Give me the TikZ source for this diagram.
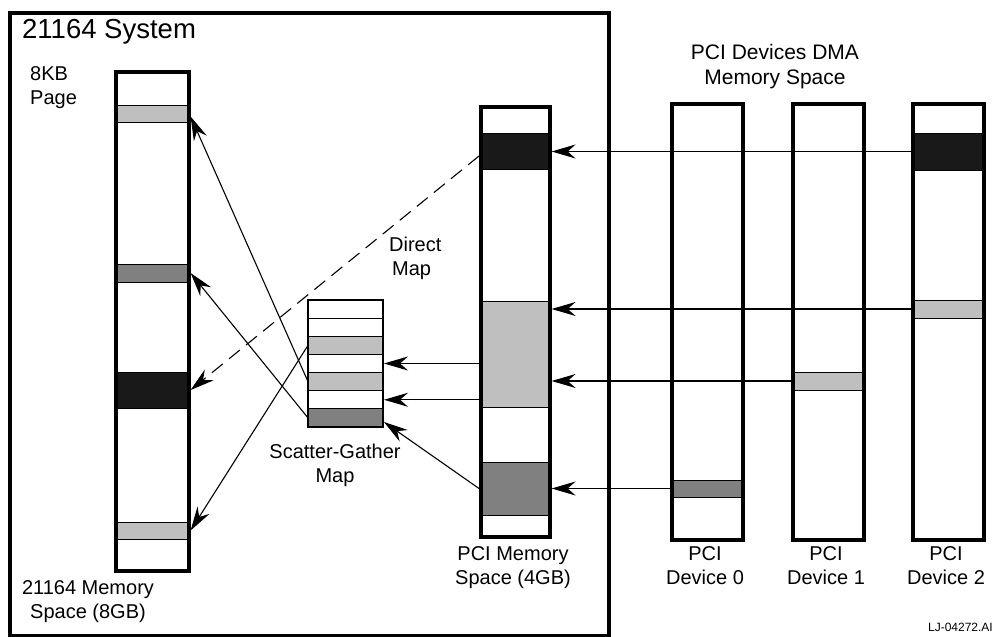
\documentclass[tikz,border=0pt]{standalone}
\usepackage{fontspec}
\setmainfont{Liberation Sans}
\usetikzlibrary{arrows.meta,calc}
\definecolor{lgr}{gray}{0.75}
\definecolor{dgr}{gray}{0.5}
\definecolor{bkr}{gray}{0.1}
\newcommand\mkband[6]{\node[bandbox, fill=#6, minimum width={(#4-#2)*1pt}, minimum height={(#5-#3)*1pt}] (#1) at (#2,#3) {};}
\newcommand\mkcol[5]{\node[colbox, minimum width={(#4-#2)*1pt}, minimum height={(#5-#3)*1pt}] (#1) at (#2,#3) {};}
\begin{document}
\begin{tikzpicture}[x=1pt,y=-1pt,
  bandbox/.style={draw, line width=0.8pt, inner sep=0pt, outer sep=0pt, anchor=north west},
  colbox/.style={draw, line width=3.6pt, inner sep=0pt, anchor=north west},
  sgrow/.style={draw, line width=1.2pt, inner sep=0pt, outer sep=0pt, anchor=north west, minimum width=75pt, minimum height=18.14pt},
  arr/.style={line width=1.1pt, -{Stealth[length=24pt, width=14pt, inset=8pt]}},
  lbl/.style={font=\fontsize{20}{24}\selectfont, align=center, inner sep=0pt},
]
\useasboundingbox (0,0) rectangle (994,637);
% outer system box
\node[draw, line width=4pt, inner sep=0pt, anchor=north west, minimum width=599pt, minimum height=623pt] (sys) at (8,11) {};
\node[font=\fontsize{27.5}{32}\selectfont, anchor=base west, inner sep=0pt] (systitle) at (22,38) {21164 System};
% left memory column
\mkband{lb1}{114}{105}{187}{122}{lgr}
\mkband{lb2}{114}{264}{187}{282}{dgr}
\mkband{lb3}{114}{372}{187}{408}{bkr}
\mkband{lb4}{114}{522}{187}{539}{lgr}
\mkcol{lcol}{114}{70}{187}{569}
% PCI memory column
\mkband{pk}{479}{133}{548}{169}{bkr}
\mkband{pl}{479}{301}{548}{407}{lgr}
\mkband{pd}{479}{462}{548}{515}{dgr}
\mkcol{pcol}{479}{105}{548}{535}
% devices
\mkband{dzd}{670}{480}{741}{497}{dgr}
\mkcol{dzcol}{670}{102}{741}{538}
\mkband{dol}{791}{372}{862}{390}{lgr}
\mkcol{docol}{791}{102}{862}{538}
\mkband{dtk}{911}{133}{982}{170}{bkr}
\mkband{dtl}{911}{300}{982}{318}{lgr}
\mkcol{dtcol}{911}{102}{982}{538}
% scatter-gather map
\node[sgrow, fill=white] (sg0) at (308,300) {};
\node[sgrow, fill=white] (sg1) at (308,318.14) {};
\node[sgrow, fill=lgr] (sg2) at (308,336.28) {};
\node[sgrow, fill=white] (sg3) at (308,354.42) {};
\node[sgrow, fill=lgr] (sg4) at (308,372.56) {};
\node[sgrow, fill=white] (sg5) at (308,390.70) {};
\node[sgrow, fill=dgr] (sg6) at (308,408.84) {};
\draw[line width=2.4pt] (sg0.north west) rectangle (sg6.south east);
% arrows from devices
\draw[arr] (dtcol.west |- dtk.west) -- (pcol.east |- dtk.west);
\draw[arr] (dtcol.west |- dtl.west) -- (pcol.east |- dtl.west);
\draw[arr] (docol.west |- dol.west) -- (pcol.east |- dol.west);
\draw[arr] (dzcol.west |- dzd.west) -- (pcol.east |- dzd.west);
% arrows into scatter-gather map
\draw[arr] (pcol.west |- sg3.east) -- ($(sg3.east)+(1,0)$);
\draw[arr] (pcol.west |- sg5.east) -- ($(sg5.east)+(1,0)$);
\draw[arr] (pcol.west |- pd.west) -- ($(sg6.south east)+(1,-5)$);
% arrows to system memory
\draw[arr] (sg4.west) -- ($(lcol.east |- lb1.east)+(0,3)$);
\draw[arr] (sg6.west) -- (lcol.east |- lb2.east);
\draw[arr] (sg2.west) -- (lcol.east |- lb4.east);
\draw[arr, dash pattern=on 14pt off 8pt] ($(pcol.west |- pk.west)+(0,5)$) -- (lcol.east |- lb3.east);
% labels
\node[lbl, align=left, anchor=north west] (pagelbl) at (30,66) {8KB\\Page};
\node[lbl, font=\fontsize{21}{25}\selectfont] (dmalbl) at (775,67) {PCI Devices DMA\\Memory Space};
\node[lbl, align=left, anchor=west] (dirlbl) at (389,258) {Direct\\\hspace*{3pt}Map};
\node[lbl] (sglbl) at (335,465) {Scatter-Gather\\Map};
\node[lbl] (smlbl) at (88,602) {21164 Memory\\Space (8GB)};
\node[lbl] (pmlbl) at (513,568) {PCI Memory\\Space (4GB)};
\node[lbl] (d0lbl) at (705,566) {PCI\\Device 0};
\node[lbl] (d1lbl) at (826,566) {PCI\\Device 1};
\node[lbl] (d2lbl) at (946,566) {PCI\\Device 2};
\node[font=\fontsize{12}{14}\selectfont, anchor=north east, inner sep=0pt] (fig) at (993,623) {LJ-04272.AI};
\end{tikzpicture}
\end{document}
